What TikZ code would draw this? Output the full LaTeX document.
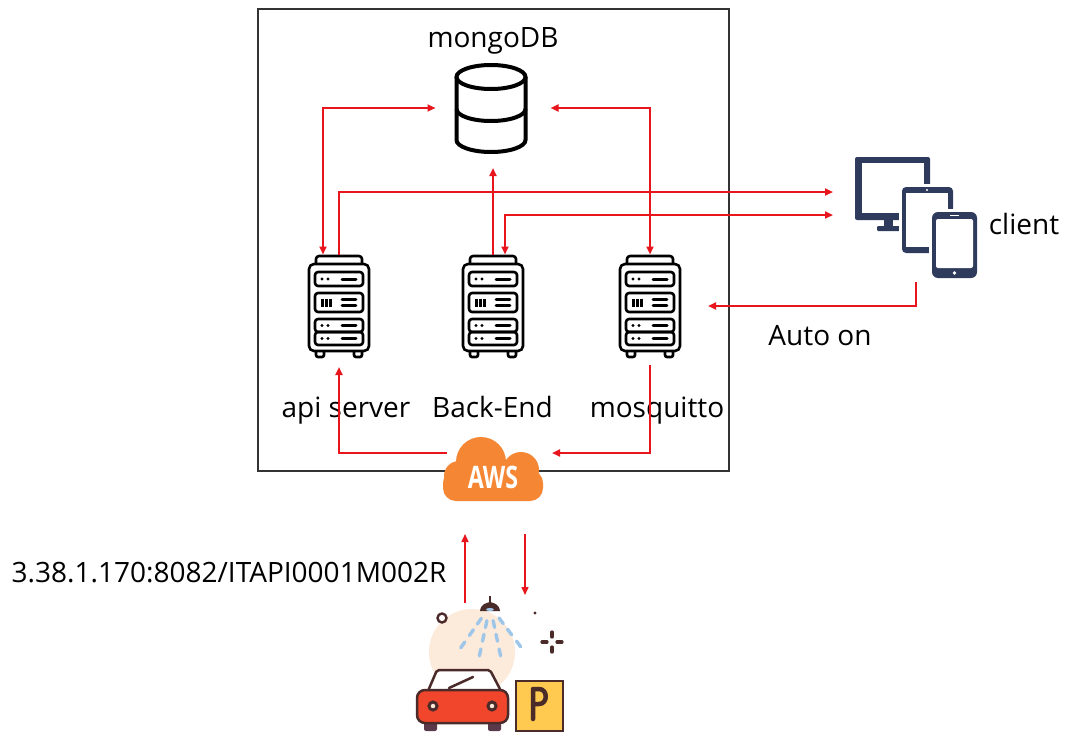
\documentclass[tikz,border=0pt]{standalone}
\usepackage{fontspec}
\setmainfont{Open Sans}
\usetikzlibrary{positioning,arrows.meta}

\definecolor{linkred}{HTML}{E8161C}
\definecolor{awsorange}{HTML}{F58634}
\definecolor{navy}{HTML}{2F3B5C}
\definecolor{brownink}{HTML}{4B2A2A}
\definecolor{carred}{HTML}{F2462C}
\definecolor{peach}{HTML}{FCEADB}
\definecolor{drop}{HTML}{9EC6E8}
\definecolor{signyellow}{HTML}{FFCA4F}
\definecolor{tyre}{HTML}{5A3A4A}

% server rack icon, drawn round its centre
\tikzset{
  rack/.pic={
    \begin{scope}[line width=2.6, line join=round]
      \draw[rounded corners=3] (-23,-42) -- (-23,-50) -- (23,-50) -- (23,-42);
      \draw[rounded corners=5] (-30,-42) rectangle (30,45);
      \draw[rounded corners=2] (-23,45) -- (-23,51) -- (-15,51) -- (-15,45)
                               (15,45) -- (15,51) -- (23,51) -- (23,45);
      \foreach \ya/\yb in {-34/-20, 13/26, 26/39}{
        \draw[rounded corners=3] (-24,\ya) rectangle (24,\yb);
        \fill (-17,{(\ya+\yb)/2}) circle (1.7) (-11,{(\ya+\yb)/2}) circle (1.7);
        \draw[line width=3, line cap=round] (3,{(\ya+\yb)/2}) -- (17,{(\ya+\yb)/2});
      }
      \draw[rounded corners=3] (-24,-13) rectangle (24,6);
      \foreach \x in {-17,-13,-9} \draw[line width=3] (\x,-7.5) -- (\x,0.5);
      \draw[line cap=round] (3,-6.5) -- (17,-6.5) (3,-0.5) -- (17,-0.5);
    \end{scope}
  }
}

\begin{document}
\begin{tikzpicture}[
  x=1pt, y=-1pt,
  >={Triangle[length=8pt,width=7pt]},
  iconbox/.style={inner sep=0pt, outer sep=0pt},
  lbl/.style={font=\fontsize{28}{30}\selectfont, anchor=base, inner sep=0pt},
  link/.style={draw=linkred, line width=2.1pt},
  feed/.style={draw=linkred, line width=1.5pt}]

  \useasboundingbox[fill=white] (0,0) rectangle (1065,731);

  \draw[line width=1.2pt, draw=black!80] (258,9) rectangle (729,471);

  % database
  \node[iconbox, minimum width=115, minimum height=120] (db) at (493,108) {};
  \begin{scope}[shift={(491,108)}, line width=4]
    \draw (0,-31) ellipse [x radius=34.5, y radius=12];
    \draw (-34.5,-31) -- (-34.5,32) arc[start angle=180, end angle=0, x radius=34.5, y radius=12] -- (34.5,-31);
    \draw (-34.5,1) arc[start angle=180, end angle=0, x radius=34.5, y radius=12];
  \end{scope}
  \node[lbl] (dblabel) at (493,47) {mongoDB};

  % servers
  \node[iconbox, minimum width=62, minimum height=103] (api) at (339,306) {};
  \node[iconbox, minimum width=62, minimum height=103] (back) at (493,306) {};
  \node[iconbox, minimum width=62, minimum height=103] (mosq) at (650,306) {};
  \pic at (api) {rack};
  \pic at (back) {rack};
  \pic at (mosq) {rack};
  \node[lbl] (apilabel) at (346,417) {api server};
  \node[lbl] (backlabel) at (492.5,417) {Back-End};
  \node[lbl] (mosqlabel) at (657,417) {mosquitto};

  % client devices
  \node[iconbox, minimum width=122, minimum height=121] (client) at (916,217.5) {};
  \fill[navy, rounded corners=2] (855,157) rectangle (930,220);
  \fill[white] (862,163) rectangle (924,213);
  \fill[navy] (884,219) rectangle (893,227);
  \fill[navy, rounded corners=1] (877,226) rectangle (900,231);
  \fill[white, rounded corners=5] (899,184) rectangle (956,256);
  \fill[navy, rounded corners=4] (902,187) rectangle (953,253);
  \fill[white] (906,193) rectangle (948,247);
  \fill[white] (927,190) circle (1.2);
  \fill[white, rounded corners=6] (929,209) rectangle (980,281);
  \fill[navy, rounded corners=6] (932,212) rectangle (977,278);
  \fill[white, rounded corners=2] (936,219) rectangle (973,268);
  \fill[white] (954.5,273) circle (1.8);
  \fill[white] (950,214.5) rectangle (959,216);
  \node[lbl] (clientlabel) at (1024,234) {client};
  \node[lbl] (autolabel) at (820,345) {Auto on};

  % cloud
  \fill[awsorange, rounded corners=13] (443,470) rectangle (543,501);
  \fill[awsorange] (481,462) circle (25);
  \fill[awsorange] (459,476) circle (15);
  \fill[awsorange] (521,470) circle (18);
  \node[font=\bfseries\fontsize{31}{31}\selectfont, text=white, inner sep=0pt] (aws) at (493,477) {\scalebox{0.75}[1]{AWS}};

  % car wash
  \node[iconbox, minimum width=150, minimum height=134] (wash) at (490,664) {};
  \fill[peach] (472,652) circle (43);
  \begin{scope}[shift={(490,606)}]
    \foreach \a in {53,78,102,125}
      \foreach \r in {15,29,44}
        \draw[drop, line width=3.4, line cap=round] (\a:\r) -- (\a:\r+7);
  \end{scope}
  \draw[brownink, line width=2] (490,596) -- (490,603);
  \fill[brownink] (480,611) .. controls (481,604) and (486,603) .. (490,602)
    .. controls (494,603) and (499,604) .. (500,611) -- cycle;
  \fill[drop] (490,609.5) ellipse (4 and 1.5);
  \draw[brownink, line width=2.4] (442,618) circle (4.5);
  \fill[brownink] (535,613) circle (1.6);
  \draw[brownink, line width=3.2, line cap=round] (552,632) -- (552,637) (552,647) -- (552,652)
    (542,642) -- (547,642) (557,642) -- (562,642);
  \fill[tyre, rounded corners=2] (424,720) rectangle (437,731);
  \fill[tyre, rounded corners=2] (488,720) rectangle (501,731);
  \filldraw[fill=white, draw=brownink, line width=2.5, rounded corners=2]
    (428,691) -- (437,670) -- (490,670) -- (501,691) -- cycle;
  \draw[brownink, line width=2.5, line cap=round] (449,688) -- (473,677);
  \filldraw[fill=carred, draw=brownink, line width=2.5, rounded corners=8] (417,690) rectangle (508,723);
  \filldraw[fill=peach, draw=brownink, line width=3] (433,706) circle (4) (492,706) circle (4);
  \filldraw[fill=signyellow, draw=brownink, line width=2.5] (516,681) rectangle (563,731);
  \draw[brownink, line width=4.5, line cap=round, line join=round]
    (533,719) -- (533,689) -- (539,689) .. controls (548,689) and (548,704) .. (539,704) -- (533,704);

  \node[lbl] (iplabel) at (229,582) {3.38.1.170:8082/ITAPI0001M002R};

  % connectors
  \draw[link,<->] ([xshift=-16]api.north) |- (db.west);
  \draw[link,->] (api.north) |- ([xshift=-22,yshift=25.5]client.west);
  \draw[link,<->] ([xshift=12]back.north) |- ([xshift=-22,yshift=2.5]client.west);
  \draw[link,->] (back.north) -- (db.south);
  \draw[link,<->] (mosq.north) |- (db.east);
  \draw[link,->] ([yshift=-4]client.south) |- ([xshift=27]mosq.east);
  \draw[link,->] ([xshift=-46,yshift=24]aws.center) -| ([yshift=-9.5]api.south);
  \draw[link,->] ([yshift=-7]mosq.south) |- ([xshift=59,yshift=24]aws.center);
  \draw[feed,->] ([xshift=-25,yshift=-6]wash.north) -- ([xshift=-28,yshift=-57]aws.center);
  \draw[feed,->] ([xshift=32,yshift=-57]aws.center) -- ([xshift=35,yshift=2]wash.north);
\end{tikzpicture}
\end{document}
